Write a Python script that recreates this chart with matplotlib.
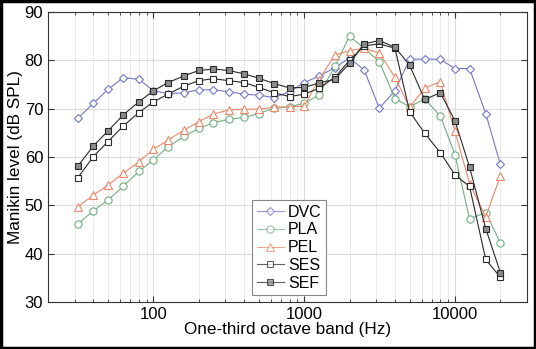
import matplotlib
matplotlib.use("Agg")
import matplotlib.pyplot as plt
from matplotlib.ticker import LogLocator, FixedLocator, FixedFormatter, NullFormatter
from matplotlib.patches import Rectangle

plt.rcParams['font.family'] = ['Liberation Sans', 'DejaVu Sans']

# one-third octave band centre frequencies (Hz)
freqs = [31.5, 40, 50, 63, 80, 100, 125, 160, 200, 250, 315, 400, 500, 630, 800,
         1000, 1250, 1600, 2000, 2500, 3150, 4000, 5000, 6300, 8000, 10000,
         12500, 16000, 20000]

dvc = [68.0, 71.1, 74.0, 76.4, 76.1, 73.7, 73.1, 73.3, 73.9, 73.9, 73.5, 73.0, 72.8,
       72.3, 73.5, 75.4, 76.7, 78.5, 80.5, 78.0, 70.1, 73.7, 80.2, 80.3, 80.2, 78.3,
       78.3, 69.0, 58.5]
pla = [46.1, 48.9, 51.1, 53.9, 57.0, 59.4, 62.1, 64.3, 65.9, 67.1, 67.8, 68.2, 69.0,
       70.1, 70.4, 71.1, 72.8, 78.8, 85.0, 82.5, 79.7, 72.1, 70.4, 72.0, 68.5, 60.5,
       47.2, 48.5, 42.2]
pel = [49.7, 52.1, 54.2, 56.6, 59.0, 61.6, 63.5, 65.6, 67.3, 68.9, 69.7, 69.9, 69.9,
       70.3, 70.4, 70.5, 76.0, 81.1, 82.0, 82.5, 81.5, 76.5, 70.3, 74.2, 75.6, 65.3,
       54.5, 47.6, 56.1]
ses = [55.7, 60.1, 63.2, 66.4, 69.2, 71.4, 73.0, 74.7, 75.8, 76.2, 75.8, 75.4, 74.4,
       73.3, 72.5, 73.0, 74.2, 76.5, 80.0, 83.0, 83.4, 82.5, 69.4, 64.9, 60.9, 56.3,
       53.9, 38.8, 35.1]
sef = [58.1, 62.3, 65.4, 68.7, 71.4, 73.7, 75.4, 76.8, 77.9, 78.2, 77.9, 77.2, 76.3,
       75.2, 74.3, 74.4, 75.3, 76.1, 79.4, 83.4, 84.1, 82.7, 79.0, 71.9, 73.3, 67.5,
       57.9, 45.2, 36.1]

fig = plt.figure(figsize=(5.36, 3.49), dpi=100)
ax = fig.add_axes([0.0896, 0.1347, 0.8934, 0.8309])

lw = 0.8
ax.plot(freqs, dvc, '-D', color='#7378c6', lw=lw, ms=4.3, mfc='white', mew=0.8, label='DVC')
ax.plot(freqs, pla, '-o', color='#72ae82', lw=lw, ms=5.2, mfc='white', mew=0.8, label='PLA')
ax.plot(freqs, pel, '-^', color='#ee8868', lw=lw, ms=6.0, mfc='white', mew=0.8, label='PEL')
ax.plot(freqs, ses, '-s', color='#2a2a2a', lw=lw, ms=4.8, mfc='white', mew=0.8, label='SES')
ax.plot(freqs, sef, '-s', color='#2a2a2a', lw=lw, ms=4.8, mfc='#8c8c8c', mew=0.8, label='SEF')

ax.set_xscale('log')
ax.set_xlim(20, 30000)
ax.set_ylim(30, 90)
ax.set_yticks([30, 40, 50, 60, 70, 80, 90])

ax.xaxis.set_major_locator(FixedLocator([100, 1000, 10000]))
ax.xaxis.set_major_formatter(FixedFormatter(['100', '1000', '10000']))
ax.xaxis.set_minor_locator(LogLocator(base=10, subs=range(2, 10), numticks=20))
ax.xaxis.set_minor_formatter(NullFormatter())

ax.grid(True, which='major', color='#dcdcdc', lw=0.8)
ax.grid(True, which='minor', axis='x', color='#e6e6e6', lw=0.6)
ax.set_axisbelow(True)

ax.tick_params(which='both', direction='in', top=True, right=True, labelsize=12,
               color='#333333')
ax.tick_params(which='major', length=4)
ax.tick_params(which='minor', length=2.5)
for s in ax.spines.values():
    s.set_color('#333333')
    s.set_linewidth(0.8)

ax.set_xlabel('One-third octave band (Hz)', fontsize=12.3, labelpad=0)
ax.set_ylabel('Manikin level (dB SPL)', fontsize=12.3, labelpad=1)

leg = ax.legend(loc='upper left', bbox_to_anchor=(0.426, 0.352), fontsize=11.5,
                handlelength=1.7, labelspacing=0.17, borderpad=0.3,
                handletextpad=0.25, borderaxespad=0, fancybox=False,
                framealpha=1, edgecolor='#888888')
leg.get_frame().set_linewidth(0.8)
for h in leg.get_lines():
    h.set_alpha(0.75)

# black frame round the whole picture
fig.add_artist(Rectangle((0.002, 0.003), 0.996, 0.994, transform=fig.transFigure,
                         fill=False, edgecolor='black', lw=2.5))

fig.savefig('out.png', dpi=100)
